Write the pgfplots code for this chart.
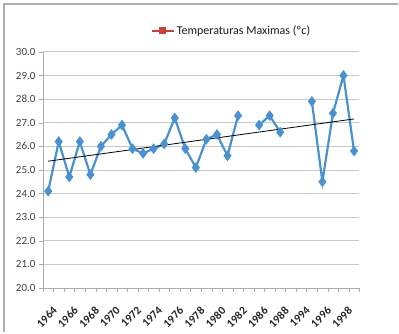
\documentclass[border=0pt]{standalone}
\usepackage{pgfplots}
\pgfplotsset{compat=1.18}
\usepackage{fontspec}
\setmainfont{Carlito}
\definecolor{serblue}{RGB}{74,146,207}
\definecolor{legred}{RGB}{205,65,60}
\definecolor{gridgray}{RGB}{200,200,200}
\definecolor{axgray}{RGB}{170,170,170}
\definecolor{framegray}{RGB}{175,175,175}
\begin{document}
\begin{tikzpicture}[x=1pt,y=1pt]
\path (0,0) rectangle (399,333);
\draw[framegray, line width=1.5pt] (4,0) -- (4,329) -- (399,329);
\begin{axis}[
  at={(43pt,44.5pt)}, anchor=south west,
  scale only axis, width=317pt, height=236.5pt,
  xmin=-0.5, xmax=29.5, ymin=20, ymax=30,
  axis lines*=left,
  axis line style={axgray, line width=0.8pt},
  xtick={0,2,...,28},
  xticklabels={1964,1966,1968,1970,1972,1974,1976,1978,1980,1982,1986,1988,1994,1996,1998},
  minor xtick={-0.5,0.5,...,29.5},
  major x tick style={draw=none},
  minor tick length=4pt,
  tick align=outside,
  x tick label style={yshift=-14pt, xshift=4pt, rotate=45, anchor=north east, font=\bfseries\fontsize{11.5}{12}\selectfont, inner sep=0pt, text=black!85},
  ytick={20,21,...,30},
  major y tick style={axgray},
  major tick length=4pt,
  minor tick style={axgray},
  ymajorgrids,
  grid style={gridgray, line width=0.8pt},
  y tick label style={font=\fontsize{11}{13}\selectfont, text=black!75},
  yticklabel style={/pgf/number format/.cd, fixed, fixed zerofill, precision=1, assume math mode=true},
  unbounded coords=jump,
  legend style={draw=none, fill=none, at={(0.34,1.089)}, anchor=west, font=\fontsize{12}{14}\selectfont, inner sep=0pt, text=black!90},
  legend cell align=left,
  legend image code/.code={\draw[mark repeat=2,mark phase=2,#1] plot coordinates {(0pt,0pt) (11pt,0pt) (22pt,0pt)};},
]
\addlegendimage{legred, line width=2.2pt, mark=square*, mark size=2.4pt, mark options={solid}}
\addlegendentry{Temperaturas Maximas (ºc)}
\addplot[serblue, line width=2.2pt, mark=diamond*, mark size=3.6pt, forget plot] coordinates {
(0,24.1) (1,26.2) (2,24.7) (3,26.2) (4,24.8) (5,26.0) (6,26.5) (7,26.9) (8,25.9) (9,25.7)
(10,25.9) (11,26.1) (12,27.2) (13,25.9) (14,25.1) (15,26.3) (16,26.5) (17,25.6) (18,27.3)
(19,nan) (20,26.9) (21,27.3) (22,26.6) (23,nan) (24,nan) (25,27.9) (26,24.5) (27,27.4) (28,29.0) (29,25.8)
};
\addplot[black, line width=0.8pt, forget plot] coordinates {(0,25.37) (29,27.16)};
\end{axis}
\end{tikzpicture}
\end{document}
